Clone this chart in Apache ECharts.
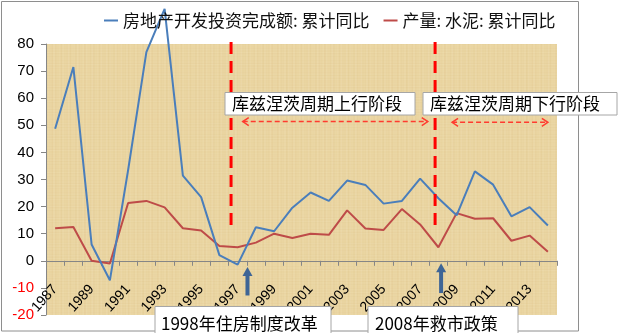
<!DOCTYPE html>
<html>
<head>
<meta charset="utf-8">
<script src="https://cdn.jsdelivr.net/npm/echarts@6/dist/echarts.min.js"></script>
<style>
  html, body { margin: 0; padding: 0; background: #fff; }
  #chart { width: 619px; height: 333px; }
</style>
</head>
<body>
<div id="chart"></div>
<script>
// Years on the category axis
const years = ['1987','1988','1989','1990','1991','1992','1993','1994','1995','1996',
               '1997','1998','1999','2000','2001','2002','2003','2004','2005','2006',
               '2007','2008','2009','2010','2011','2012','2013','2014'];

// 房地产开发投资完成额: 累计同比 (%)
const investYoY = [48.7, 71.5, 6.0, -7.2, 33.5, 77.0, 93.0, 31.4, 23.5, 2.1,
                   -1.4, 12.4, 10.9, 19.6, 25.2, 22.1, 29.6, 28.0, 21.1, 22.1,
                   30.3, 23.1, 16.8, 33.0, 28.1, 16.4, 19.8, 13.0];

// 产量: 水泥: 累计同比 (%)
const cementYoY = [12.0, 12.5, 0.0, -1.0, 21.3, 22.1, 19.7, 12.0, 11.2, 5.5,
                   5.0, 6.7, 10.0, 8.4, 10.0, 9.6, 18.6, 11.9, 11.4, 19.1,
                   13.4, 5.0, 17.6, 15.5, 15.7, 7.4, 9.3, 3.3];

const seriesNames = ['房地产开发投资完成额: 累计同比', '产量: 水泥: 累计同比'];
const phaseNotes = ['库兹涅茨周期上行阶段', '库兹涅茨周期下行阶段'];
const policyNotes = ['1998年住房制度改革', '2008年救市政策'];

const CJK = '"Noto Sans CJK SC", sans-serif';
const LATIN = '"Liberation Sans", Arial, sans-serif';

// Papyrus-like tile for the plot background (soft deterministic fibres)
function papyrusTile() {
  const c = document.createElement('canvas');
  c.width = 120; c.height = 120;
  const g = c.getContext('2d');
  g.fillStyle = '#EAD5A2';
  g.fillRect(0, 0, 120, 120);
  for (let i = 0; i < 120; i++) {
    const a = Math.sin(i * 1.73) * Math.cos(i * 0.41);
    g.fillStyle = a > 0 ? 'rgba(255,248,225,' + (0.10 * a).toFixed(3) + ')'
                        : 'rgba(200,160,90,' + (-0.08 * a).toFixed(3) + ')';
    g.fillRect(i, 0, 1, 120);
  }
  for (let j = 0; j < 120; j++) {
    const b = Math.sin(j * 2.31 + 1) * Math.sin(j * 0.27);
    g.fillStyle = b > 0 ? 'rgba(255,248,228,' + (0.06 * b).toFixed(3) + ')'
                        : 'rgba(200,160,90,' + (-0.05 * b).toFixed(3) + ')';
    g.fillRect(0, j, 120, 1);
  }
  return c;
}

const chart = echarts.init(document.getElementById('chart'), null, { renderer: 'canvas' });

chart.setOption({
  animation: false,
  backgroundColor: '#fff',
  legend: {
    data: seriesNames,
    left: 99,
    top: 7,
    icon: 'rect',
    itemWidth: 14,
    itemHeight: 2,
    itemGap: 14,
    textStyle: { fontFamily: CJK, fontSize: 17, color: '#111' }
  },
  grid: {
    left: 46, right: 62, top: 44, bottom: 18,
    outerBoundsMode: 'none',
    containLabel: false,
    show: true,
    borderWidth: 0,
    backgroundColor: { image: papyrusTile(), repeat: 'repeat' }
  },
  xAxis: {
    type: 'category',
    data: years,
    boundaryGap: true,
    position: 'bottom',
    axisLine: { onZero: false, lineStyle: { color: '#868686', width: 1 } },
    axisTick: { show: true, interval: 0, length: 5, lineStyle: { color: '#868686' } },
    axisLabel: {
      interval: 1, rotate: 48, margin: 26,
      fontFamily: LATIN, fontSize: 14, color: '#000'
    },
    splitLine: { show: false }
  },
  yAxis: {
    type: 'value',
    min: -20, max: 80, interval: 10,
    axisLine: { show: true, lineStyle: { color: '#868686' } },
    axisTick: { show: true, length: 5, lineStyle: { color: '#868686' } },
    axisLabel: {
      margin: 12, fontFamily: LATIN, fontSize: 15,
      color: (v) => (Number(v) < 0 ? '#FF0000' : '#000')
    },
    splitLine: { show: false }
  },
  series: [
    {
      name: seriesNames[0], type: 'line', data: investYoY,
      symbol: 'none', clip: false, z: 3,
      lineStyle: { color: '#4A7EBB', width: 2 }, itemStyle: { color: '#4A7EBB' }
    },
    {
      name: seriesNames[1], type: 'line', data: cementYoY,
      symbol: 'none', clip: false, z: 2,
      lineStyle: { color: '#BE4B48', width: 2 }, itemStyle: { color: '#BE4B48' }
    }
  ]
});

// Annotation layer placed from the axes' own scales
const yAt = (v) => chart.convertToPixel({ yAxisIndex: 0 }, v);

// Lift the category axis (line, ticks and labels) up to the zero level
chart.setOption({ xAxis: { offset: -(yAt(-20) - yAt(0)) } });

const x0 = chart.convertToPixel({ xAxisIndex: 0 }, 0);
const step = chart.convertToPixel({ xAxisIndex: 0 }, 1) - x0;
const xAt = (idx) => x0 + idx * step;          // fractional category index -> px

function phaseLine(idx) {
  return {
    type: 'line', z: 10,
    shape: { x1: xAt(idx), y1: yAt(80.7), x2: xAt(idx), y2: yAt(12.8) },
    style: { stroke: '#FF0000', lineWidth: 3, lineDash: [12, 7] }
  };
}

function dashedArrow(i1, i2, v) {
  const xa = xAt(i1), xb = xAt(i2), y = yAt(v);
  const s = { stroke: '#FF3B2F', lineWidth: 1.5, fill: null };
  return [
    { type: 'line', z: 10, shape: { x1: xa, y1: y, x2: xb, y2: y }, style: Object.assign({ lineDash: [5, 3] }, s) },
    { type: 'polyline', z: 10, shape: { points: [[xa + 6, y - 4], [xa, y], [xa + 6, y + 4]] }, style: s },
    { type: 'polyline', z: 10, shape: { points: [[xb - 6, y - 4], [xb, y], [xb - 6, y + 4]] }, style: s }
  ];
}

function upArrow(idx, vTop, vBottom) {
  const x = xAt(idx), yt = yAt(vTop), yb = yAt(vBottom);
  const col = '#3E6596';
  return [
    { type: 'line', z: 10, shape: { x1: x, y1: yt + 7, x2: x, y2: yb }, style: { stroke: col, lineWidth: 4 } },
    { type: 'polygon', z: 10, shape: { points: [[x, yt], [x - 5, yt + 9], [x + 5, yt + 9]] }, style: { fill: col } }
  ];
}

function noteBox(x, y, w, h, text, tx) {
  return [
    { type: 'rect', z: 11, shape: { x: x, y: y, width: w, height: h },
      style: { fill: '#fff', stroke: '#A6A6A6', lineWidth: 1 } },
    { type: 'text', z: 12, x: tx, y: y + h / 2,
      style: { text: text, fontFamily: CJK, fontSize: 17, fill: '#000', verticalAlign: 'middle', align: 'left' } }
  ];
}

const elements = [
  // chart frame
  { type: 'rect', z: 0, shape: { x: 1.5, y: 1.5, width: 577, height: 329.5 },
    style: { fill: null, stroke: '#8E8E8E', lineWidth: 1 } },
  phaseLine(9.64),
  phaseLine(20.82)
]
  .concat(dashedArrow(10.28, 20.42, 51.4))
  .concat(dashedArrow(21.75, 27.0, 51.1))
  .concat(upArrow(10.54, -2.3, -12.8))
  .concat(upArrow(21.15, -0.9, -11.9))
  .concat(noteBox(225, 92.5, 190, 22.5, phaseNotes[0], 232))
  .concat(noteBox(423, 92.5, 194, 22.5, phaseNotes[1], 430))
  .concat(noteBox(155, 306.5, 176, 34, policyNotes[0], 161))
  .concat(noteBox(368, 306.5, 150, 34, policyNotes[1], 375));

chart.setOption({ graphic: { elements: elements } });
</script>
</body>
</html>
